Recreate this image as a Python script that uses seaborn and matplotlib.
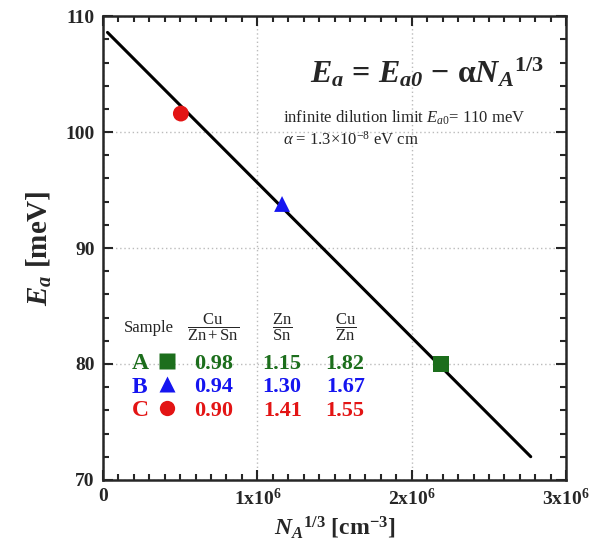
import seaborn as sns
import matplotlib.pyplot as plt
from matplotlib.ticker import MultipleLocator, FuncFormatter
import pandas as pd

sns.set_style("ticks")
plt.rcParams['font.family'] = ['Liberation Serif', 'DejaVu Serif']
plt.rcParams['mathtext.fontset'] = 'custom'
plt.rcParams['mathtext.rm'] = 'Liberation Serif'
plt.rcParams['mathtext.it'] = 'Liberation Serif:italic'
plt.rcParams['mathtext.bf'] = 'Liberation Serif:bold'
plt.rcParams['mathtext.bfit'] = 'Liberation Serif:bold:italic'

# samples
samples = ["A", "B", "C"]
na13 = [2.19e6, 1.16e6, 0.505e6]
ea = [80.0, 93.8, 101.6]
cu_znsn = ["0.98", "0.94", "0.90"]
zn_sn = ["1.15", "1.30", "1.41"]
cu_zn = ["1.82", "1.67", "1.55"]
colors = ["#1c6e1c", "#1515f0", "#e31414"]
markers = ["s", "^", "o"]

# linear fit line
fit_x = [0.03e6, 2.77e6]
fit_y = [108.6, 72.0]

df = pd.DataFrame({"x": na13, "y": ea, "s": samples})

fig = plt.figure(figsize=(6.05, 5.58), dpi=100)
ax = fig.add_axes([0.170, 0.140, 0.766, 0.831])

sns.lineplot(x=fit_x, y=fit_y, ax=ax, color="black", lw=2.2)
sns.scatterplot(data=df, x="x", y="y", hue="s", style="s",
                palette=dict(zip(samples, colors)),
                markers=dict(zip(samples, markers)),
                s=130, edgecolor="none", legend=False, ax=ax, zorder=3)

ax.set_xlim(0, 3e6)
ax.set_ylim(70, 110)
ax.xaxis.set_major_locator(MultipleLocator(1e6))
ax.xaxis.set_minor_locator(MultipleLocator(1e5))
ax.yaxis.set_major_locator(MultipleLocator(10))
ax.yaxis.set_minor_locator(MultipleLocator(2))

def xfmt(v, pos):
    if v == 0:
        return "0"
    return r"$\mathbf{%dx10^6}$" % round(v / 1e6)

ax.xaxis.set_major_formatter(FuncFormatter(xfmt))
ax.tick_params(which="both", direction="in", top=True, right=True, width=1.5)
ax.tick_params(which="major", length=7, labelsize=14, pad=6)
ax.tick_params(which="minor", length=4)
for lab in ax.get_xticklabels() + ax.get_yticklabels():
    lab.set_fontweight("bold")
for sp in ax.spines.values():
    sp.set_linewidth(1.8)
ax.grid(True, which="major", color="#bbbbbb", ls=(0, (1, 2)), lw=1)

ax.set_xlabel(r"$\mathbfit{N_A}^{\mathbf{1/3}}$ [cm$^{\mathbf{-3}}$]", fontsize=17, fontweight="bold")
ax.set_ylabel(r"$\mathbfit{E_a}$ [meV]", fontsize=21, fontweight="bold", labelpad=8)

tr = ax.transAxes
ax.text(0.70, 0.879, r"$\mathbfit{E_a}$ = $\mathbfit{E_{a0}}$ $\mathbf{-}$ $\mathbf{\alpha}\mathbfit{N_A}^{\mathbf{1/3}}$",
        transform=tr, ha="center", va="center", fontsize=23, fontweight="bold")
ax.text(0.389, 0.78, r"infinite dilution limit $E_{a0}$= 110 meV", transform=tr,
        ha="left", va="center", fontsize=12)
ax.text(0.389, 0.733, r"$\alpha$ = 1.3$\times$10$^{-8}$ eV cm", transform=tr,
        ha="left", va="center", fontsize=12)

# composition table
hy = 0.328
ax.text(0.10, hy, "Sample", transform=tr, ha="center", va="center", fontsize=12)
ax.text(0.238, hy, r"$\dfrac{\mathrm{Cu}}{\mathrm{Zn+Sn}}$", transform=tr, ha="center", va="center", fontsize=12)
ax.text(0.387, hy, r"$\dfrac{\mathrm{Zn}}{\mathrm{Sn}}$", transform=tr, ha="center", va="center", fontsize=12)
ax.text(0.523, hy, r"$\dfrac{\mathrm{Cu}}{\mathrm{Zn}}$", transform=tr, ha="center", va="center", fontsize=12)

row_y = [0.25, 0.20, 0.149]
for i, s in enumerate(samples):
    y = row_y[i]
    c = colors[i]
    ax.text(0.08, y, s, transform=tr, ha="center", va="center", fontsize=17, fontweight="bold", color=c)
    ax.plot([0.138], [y + 0.006], marker=markers[i], color=c, ms=11, mec="none", transform=tr, clip_on=False)
    ax.text(0.238, y, cu_znsn[i], transform=tr, ha="center", va="center", fontsize=16, fontweight="bold", color=c)
    ax.text(0.387, y, zn_sn[i], transform=tr, ha="center", va="center", fontsize=16, fontweight="bold", color=c)
    ax.text(0.523, y, cu_zn[i], transform=tr, ha="center", va="center", fontsize=16, fontweight="bold", color=c)

fig.savefig("out.png", dpi=100)
